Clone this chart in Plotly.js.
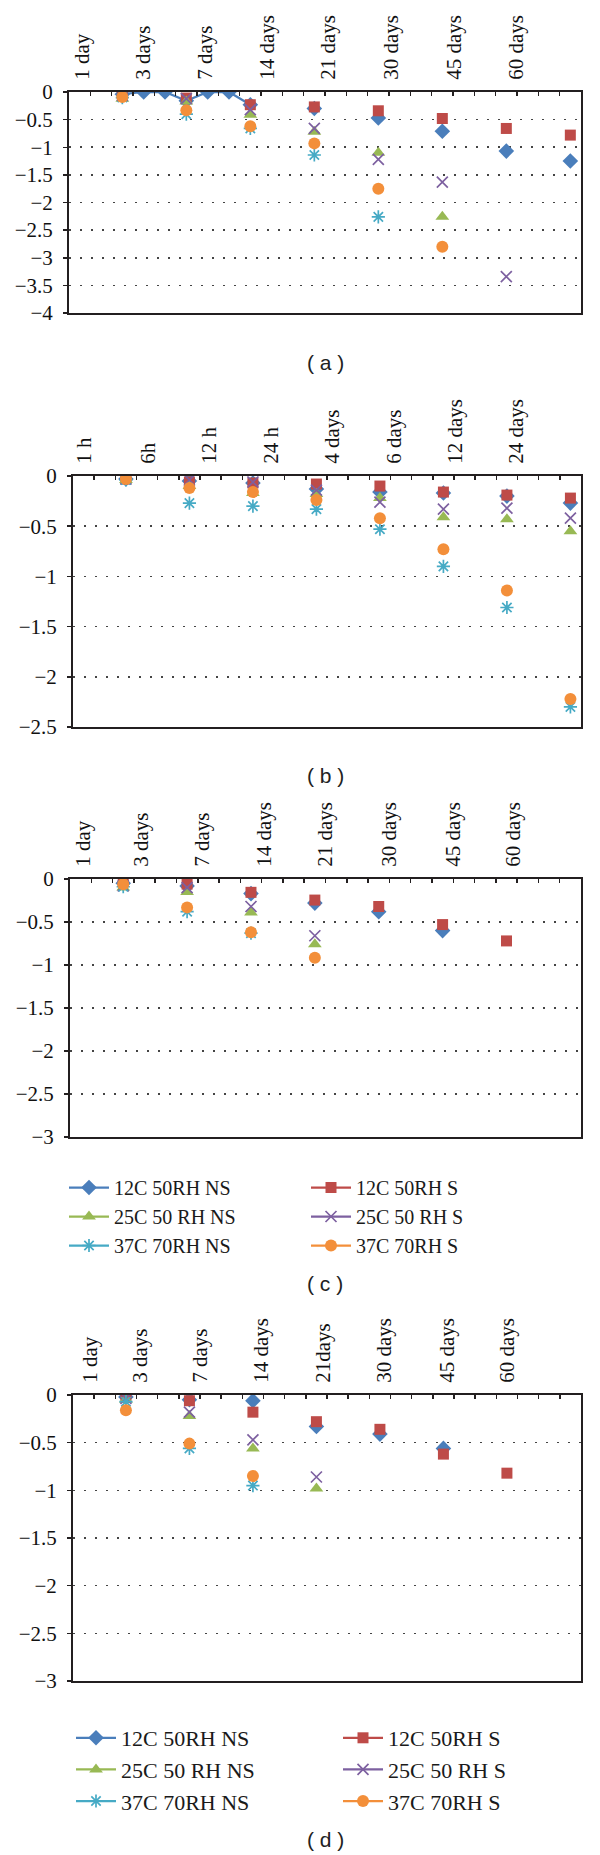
<!DOCTYPE html>
<html>
<head>
<meta charset="utf-8">
<script src="https://cdn.plot.ly/plotly-3.0.1.min.js"></script>
<style>
html,body{margin:0;padding:0;background:#fff;}
#chart{width:600px;height:1855px;}
</style>
</head>
<body>
<div id="chart"></div>
<script>
// ---------------- DATA ----------------
const seriesNames = ["12C 50RH NS", "12C 50RH S", "25C 50 RH NS", "25C 50 RH S", "37C 70RH NS", "37C 70RH S"];
const slotCount = 24;                               // category slots along the time axis
const sampleSlots = [2, 5, 8, 11, 14, 17, 20, 23];  // slots holding the measured time points

// Panel (a)
const labelsA = ["1 day", "3 days", "7 days", "14 days", "21 days", "30 days", "45 days", "60 days"];
const a12NSslots = [2, 3, 4, 5, 6, 7, 8, 11, 14, 17, 20, 23];
const a12NS = [-0.04, 0, 0, -0.16, 0, 0, -0.23, -0.30, -0.47, -0.71, -1.07, -1.25];
const a12S  = [-0.02, -0.11, -0.23, -0.27, -0.34, -0.48, -0.66, -0.78];
const a25NS = [-0.12, -0.17, -0.41, -0.72, -1.10, -2.26, null, null];
const a25S  = [-0.06, -0.12, -0.32, -0.66, -1.22, -1.63, -3.34, null];
const a37NS = [-0.10, -0.40, -0.66, -1.14, -2.26, null, null, null];
const a37S  = [-0.09, -0.33, -0.62, -0.93, -1.75, -2.80, null, null];

// Panel (b)
const labelsB = ["1 h", "6h", "12 h", "24 h", "4 days", "6 days", "12 days", "24 days"];
const b12NS = [-0.03, -0.05, -0.07, -0.13, -0.16, -0.17, -0.20, -0.27];
const b12S  = [-0.03, -0.06, -0.07, -0.08, -0.10, -0.16, -0.19, -0.22];
const b25NS = [-0.04, -0.10, -0.17, -0.18, -0.22, -0.41, -0.43, -0.55];
const b25S  = [-0.03, -0.04, -0.06, -0.14, -0.26, -0.33, -0.32, -0.42];
const b37NS = [-0.04, -0.27, -0.30, -0.33, -0.53, -0.90, -1.31, -2.30];
const b37S  = [-0.03, -0.12, -0.16, -0.24, -0.42, -0.73, -1.14, -2.22];

// Panel (c)
const labelsC = ["1 day", "3 days", "7 days", "14 days", "21 days", "30 days", "45 days", "60 days"];
const c12NS = [-0.05, -0.08, -0.17, -0.28, -0.38, -0.60, null, null];
const c12S  = [-0.03, -0.06, -0.155, -0.245, -0.32, -0.53, -0.72, null];
const c25NS = [-0.10, -0.15, -0.39, -0.76, null, null, null, null];
const c25S  = [-0.08, -0.10, -0.32, -0.66, null, null, null, null];
const c37NS = [-0.09, -0.38, -0.63, null, null, null, null, null];
const c37S  = [-0.06, -0.33, -0.62, -0.915, null, null, null, null];

// Panel (d)
const labelsD = ["1 day", "3 days", "7 days", "14 days", "21days", "30 days", "45 days", "60 days"];
const d12NS = [-0.02, -0.05, -0.06, -0.33, -0.41, -0.56, null, null];
const d12S  = [-0.025, -0.06, -0.18, -0.28, -0.36, -0.62, -0.82, null];
const d25NS = [-0.05, -0.22, -0.56, -0.98, null, null, null, null];
const d25S  = [-0.035, -0.18, -0.47, -0.86, null, null, null, null];
const d37NS = [-0.07, -0.56, -0.95, null, null, null, null, null];
const d37S  = [-0.16, -0.51, -0.85, null, null, null, null, null];

// ---------------- STYLE ----------------
const W = 600, H = 1855;
const colors = ["#4A7EBB", "#BE4B48", "#98B954", "#7D60A0", "#46AAC5", "#F38F3A"];
const symbols = ["diamond", "square", "triangle-up", "x-thin-open", "asterisk-open", "circle"];
const sizes = [12, 11, 12, 11, 11, 12];
const serif = "Liberation Serif";

function toSlots(slots, vals) {
  const arr = new Array(slotCount).fill(null);
  slots.forEach((s, i) => { if (vals[i] !== undefined) arr[s] = vals[i]; });
  return arr;
}
const xs = Array.from({length: slotCount}, (_, i) => i);

const panels = [
  {key: "", labels: labelsA, ymin: -4, box: [69, 581, 92, 313],
   tickpos: [0.1, 3.0, 5.9, 8.8, 11.65, 14.6, 17.55, 20.45],
   series: [toSlots(a12NSslots, a12NS), toSlots(sampleSlots, a12S), toSlots(sampleSlots, a25NS),
            toSlots(sampleSlots, a25S), toSlots(sampleSlots, a37NS), toSlots(sampleSlots, a37S)],
   title: "( a )", titleY: 362, legends: null},
  {key: "2", labels: labelsB, ymin: -2.5, box: [73, 581, 476, 727],
   tickpos: [0.05, 3.05, 5.95, 8.85, 11.75, 14.65, 17.55, 20.45],
   series: [b12NS, b12S, b25NS, b25S, b37NS, b37S].map(v => toSlots(sampleSlots, v)),
   title: "( b )", titleY: 775, legends: null},
  {key: "3", labels: labelsC, ymin: -3, box: [70, 581, 879, 1137],
   tickpos: [0.1, 2.85, 5.7, 8.6, 11.5, 14.5, 17.5, 20.3],
   series: [c12NS, c12S, c25NS, c25S, c37NS, c37S].map(v => toSlots(sampleSlots, v)),
   title: "( c )", titleY: 1283, legends: ["legend", "legend2"]},
  {key: "4", labels: labelsD, ymin: -3, box: [73, 581, 1395, 1681],
   tickpos: [0.3, 2.65, 5.5, 8.4, 11.3, 14.2, 17.2, 20.0],
   series: [d12NS, d12S, d25NS, d25S, d37NS, d37S].map(v => toSlots(sampleSlots, v)),
   title: "( d )", titleY: 1839, legends: ["legend3", "legend4"]}
];

const traces = [];
const layout = {
  width: W, height: H,
  margin: {l: 0, r: 0, t: 0, b: 0},
  paper_bgcolor: "#fff", plot_bgcolor: "#fff",
  showlegend: true,
  annotations: []
};

const minorVals = Array.from({length: slotCount - 1}, (_, i) => i + 0.5);

panels.forEach((p, pi) => {
  const xa = "x" + p.key, ya = "y" + p.key;
  p.series.forEach((vals, si) => {
    const t = {
      type: "scatter", mode: "lines+markers",
      x: xs, y: vals, xaxis: xa, yaxis: ya,
      name: seriesNames[si],
      connectgaps: false,
      line: {color: colors[si], width: 2.25},
      marker: {symbol: symbols[si], size: sizes[si], color: colors[si],
               line: {color: colors[si], width: (si === 3 || si === 4) ? 1.7 : 0}},
      showlegend: !!p.legends,
      hoverinfo: "x+y"
    };
    if (p.legends) {
      t.legend = p.legends[si % 2 === 0 ? 0 : 1];
    }
    traces.push(t);
  });
  const [x0, x1, y0, y1] = p.box;
  layout["xaxis" + p.key] = {
    domain: [x0 / W, x1 / W], anchor: ya, side: "top",
    range: [-0.5, slotCount - 0.5], fixedrange: true,
    tickmode: "array", tickvals: p.tickpos, ticktext: p.labels,
    tickangle: -90, ticks: "", ticklabelstandoff: 6,
    tickfont: {family: serif, size: 21, color: "#111"},
    showgrid: false, zeroline: false,
    showline: true, linecolor: "#231f20", linewidth: 2, mirror: true,
    minor: {tickmode: "array", tickvals: minorVals, ticks: "inside", ticklen: 4,
            tickwidth: 1.5, tickcolor: "#231f20", showgrid: false}
  };
  layout["yaxis" + p.key] = {
    domain: [1 - y1 / H, 1 - y0 / H], anchor: xa,
    range: [p.ymin, 0], fixedrange: true,
    tickmode: "linear", tick0: 0, dtick: 0.5,
    ticks: "outside", ticklen: 4, tickwidth: 1.5, tickcolor: "#231f20",
    ticklabelstandoff: 6,
    tickfont: {family: serif, size: 21, color: "#111"},
    showgrid: true, gridcolor: "#444", gridwidth: 1.6, griddash: "1.6px,9.4px",
    zeroline: false,
    showline: true, linecolor: "#231f20", linewidth: 2, mirror: true
  };
  layout.annotations.push({
    xref: "paper", yref: "paper", x: 325 / W, y: 1 - p.titleY / H,
    xanchor: "center", yanchor: "middle", showarrow: false,
    text: p.title, font: {family: "Liberation Sans", size: 21, color: "#222"}
  });
});

function legendAt(xpx, ytoppx, size, gap) {
  return {
    x: xpx / W, y: 1 - ytoppx / H, xanchor: "left", yanchor: "top",
    orientation: "v", bgcolor: "rgba(0,0,0,0)", borderwidth: 0,
    font: {family: serif, size: size, color: "#1a1a1a"},
    itemwidth: 40, tracegroupgap: gap || 0, itemclick: false, itemdoubleclick: false
  };
}
layout.legend  = legendAt(64, 1168, 20);
layout.legend2 = legendAt(306, 1168, 20);
layout.legend3 = legendAt(71, 1717, 22);
layout.legend4 = legendAt(338, 1717, 22);

Plotly.newPlot("chart", traces, layout, {displayModeBar: false, staticPlot: true});
</script>
</body>
</html>
